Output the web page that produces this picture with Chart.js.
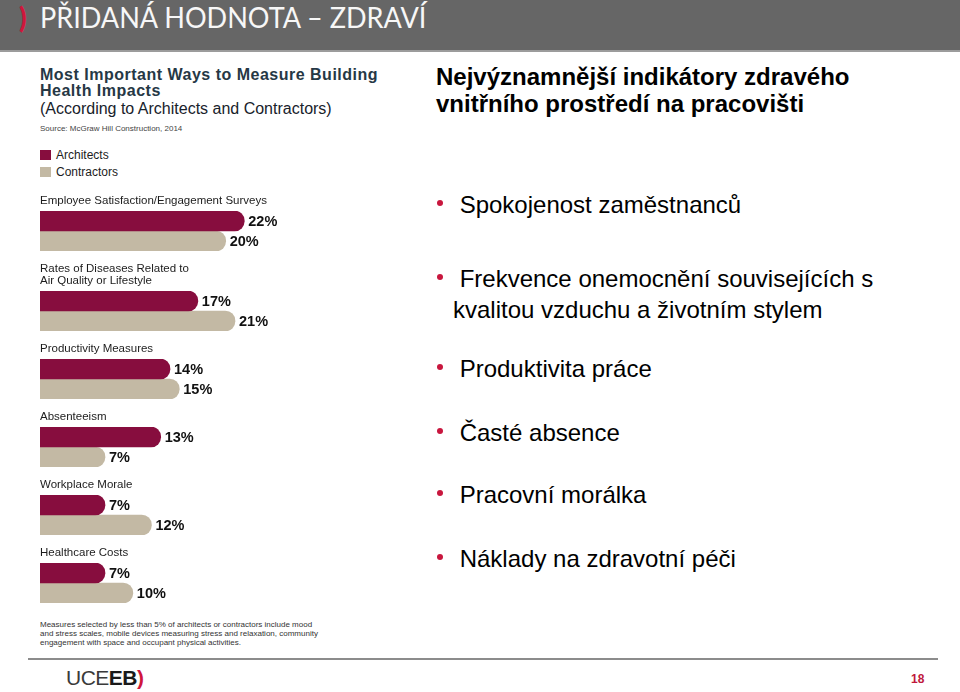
<!DOCTYPE html>
<html lang="cs">
<head>
<meta charset="utf-8">
<title>Přidaná hodnota – zdraví</title>
<script src="https://cdn.jsdelivr.net/npm/chart.js@4.4.1/dist/chart.umd.min.js"></script>
<style>
    body {
        margin: 0;
        width: 960px;
        height: 692px;
        position: relative;
        overflow: hidden;
        background: #fff;
        font-family: "Liberation Sans", Arial, sans-serif;
    }
    .abs { position: absolute; white-space: nowrap; }

    #header {
        position: absolute; left: 0; top: 0;
        width: 960px; height: 50px;
        background: #666666;
        border-bottom: 2px solid #9c9c9c;
    }
    #header .bracket {
        position: absolute; left: 19px; top: 1px;
        font: 900 28px Lato, sans-serif; line-height: 1.2;
        color: #d0163c;
    }
    #header .title {
        position: absolute; left: 40px; top: 0;
        font: 28.5px Lato, sans-serif; line-height: 1.2;
        color: #f7f7f7; white-space: nowrap;
        transform: scaleX(0.95); transform-origin: left top;
    }

    .src-title { left: 40px; top: 66.5px; font-size: 16px; line-height: 16px; font-weight: bold; letter-spacing: 0.5px; color: #263845; }
    .src-sub { left: 40px; top: 100.8px; font-size: 16px; line-height: 16px; color: #18222b; }
    .src-note { left: 40px; top: 123.7px; font-size: 8px; line-height: 9px; color: #444; }

    .legend { left: 40px; font-size: 12px; line-height: 12px; color: #1c1c1c; }
    .legend i { position: absolute; left: 0; top: 1px; width: 11px; height: 10px; }
    .legend span { position: absolute; left: 16px; top: 0; }

    #charts { position: absolute; left: 40px; top: 195px; display: flex; flex-direction: column; gap: 12px; }
    #charts canvas { display: block; }

    .footnote { left: 40px; top: 620px; font-size: 8px; line-height: 9px; color: #333; }

    .rtitle { left: 436px; top: 62.5px; font-size: 24px; line-height: 27px; font-weight: bold; color: #000; }
    .bullet { left: 453px; font-size: 24px; line-height: 31px; color: #000; }
    .bullet::before {
        content: ""; position: absolute; left: -16px; top: 11px;
        width: 6px; height: 6px; border-radius: 50%; background: #c8163e;
    }

    #footer-line { position: absolute; left: 28px; top: 658px; width: 910px; height: 2px; background: #8c8c8c; }
    .logo { left: 66px; top: 666px; font-size: 21px; line-height: 24px; color: #3a3a3a; letter-spacing: -0.5px; }
    .logo b { color: #1a1a1a; }
    .logo em { font-style: normal; font-weight: bold; color: #d0163c; }
    .page { left: 911px; top: 672px; font-size: 12px; line-height: 14px; font-weight: bold; color: #c0183c; }
</style>
</head>
<body>

<div id="header">
    <div class="bracket">)</div>
    <div class="title">PŘIDANÁ HODNOTA – ZDRAVÍ</div>
</div>

<div class="abs src-title">Most Important Ways to Measure Building<br>Health Impacts</div>
<div class="abs src-sub">(According to Architects and Contractors)</div>
<div class="abs src-note">Source: McGraw Hill Construction, 2014</div>

<div class="abs legend" style="top:149px"><i style="background:#870d3e"></i><span>Architects</span></div>
<div class="abs legend" style="top:166px"><i style="background:#c3b9a4"></i><span>Contractors</span></div>

<div id="charts"></div>

<div class="abs footnote">Measures selected by less than 5% of architects or contractors include mood<br>and stress scales, mobile devices measuring stress and relaxation, community<br>engagement with space and occupant physical activities.</div>

<div class="abs rtitle">Nejvýznamnější indikátory zdravého<br>vnitřního prostředí na pracovišti</div>

<div class="abs bullet" style="top:189px">&nbsp;Spokojenost zaměstnanců</div>
<div class="abs bullet" style="top:263px">&nbsp;Frekvence onemocnění souvisejících s<br>kvalitou vzduchu a životním stylem</div>
<div class="abs bullet" style="top:353px">&nbsp;Produktivita práce</div>
<div class="abs bullet" style="top:417px">&nbsp;Časté absence</div>
<div class="abs bullet" style="top:479px">&nbsp;Pracovní morálka</div>
<div class="abs bullet" style="top:543px">&nbsp;Náklady na zdravotní péči</div>

<div id="footer-line"></div>
<div class="abs logo">UCE<b>EB</b><em>)</em></div>
<div class="abs page">18</div>

<script>
"use strict";

// Data

const CATEGORIES = [
    ["Employee Satisfaction/Engagement Surveys"],
    ["Rates of Diseases Related to", "Air Quality or Lifestyle"],
    ["Productivity Measures"],
    ["Absenteeism"],
    ["Workplace Morale"],
    ["Healthcare Costs"]
];
const SERIES = ["Architects", "Contractors"];
const ARCHITECTS = [22, 17, 14, 13, 7, 7];
const CONTRACTORS = [20, 21, 15, 7, 12, 10];
const COLORS = ["#870d3e", "#c3b9a4"];


// Draws "22%" just past the end of each bar

const valueLabels = {
    id: "valueLabels",
    afterDatasetsDraw(chart) {
        let ctx = chart.ctx;
        ctx.save();
        ctx.font = 'bold 14.5px "Liberation Sans", Arial, sans-serif';
        ctx.fillStyle = "#111";
        ctx.textBaseline = "middle";
        chart.data.datasets.forEach(function(ds, d) {
            chart.getDatasetMeta(d).data.forEach(function(bar, j) {
                ctx.fillText(ds.data[j] + "%", bar.x + 4, bar.y + 1);
            });
        });
        ctx.restore();
    }
};


// One small chart per measure, label on top as the chart title

const BAR = 20;
const LINE = 12;

CATEGORIES.forEach(function(label, i) {
    let canvas = document.createElement("canvas");
    canvas.width = 260;
    canvas.height = LINE * label.length + 4 + BAR * 2;
    document.getElementById("charts").appendChild(canvas);

    new Chart(canvas, {
        type: "bar",
        data: {
            labels: [""],
            datasets: [
                { label: SERIES[0], data: [ARCHITECTS[i]], backgroundColor: COLORS[0] },
                { label: SERIES[1], data: [CONTRACTORS[i]], backgroundColor: COLORS[1] }
            ]
        },
        options: {
            indexAxis: "y",
            responsive: false,
            animation: false,
            layout: { padding: 0 },
            datasets: {
                bar: { barThickness: BAR, borderRadius: BAR / 2 }
            },
            scales: {
                x: { display: false, min: 0, max: 28 },
                y: { display: false }
            },
            plugins: {
                legend: { display: false },
                tooltip: { enabled: false },
                title: {
                    display: true,
                    text: label,
                    align: "start",
                    color: "#1c1c1c",
                    font: { family: '"Liberation Sans", Arial, sans-serif', size: 11.5, weight: "normal", lineHeight: LINE + "px" },
                    padding: { top: 0, bottom: 4 }
                }
            }
        },
        plugins: [valueLabels]
    });
});
</script>
</body>
</html>
